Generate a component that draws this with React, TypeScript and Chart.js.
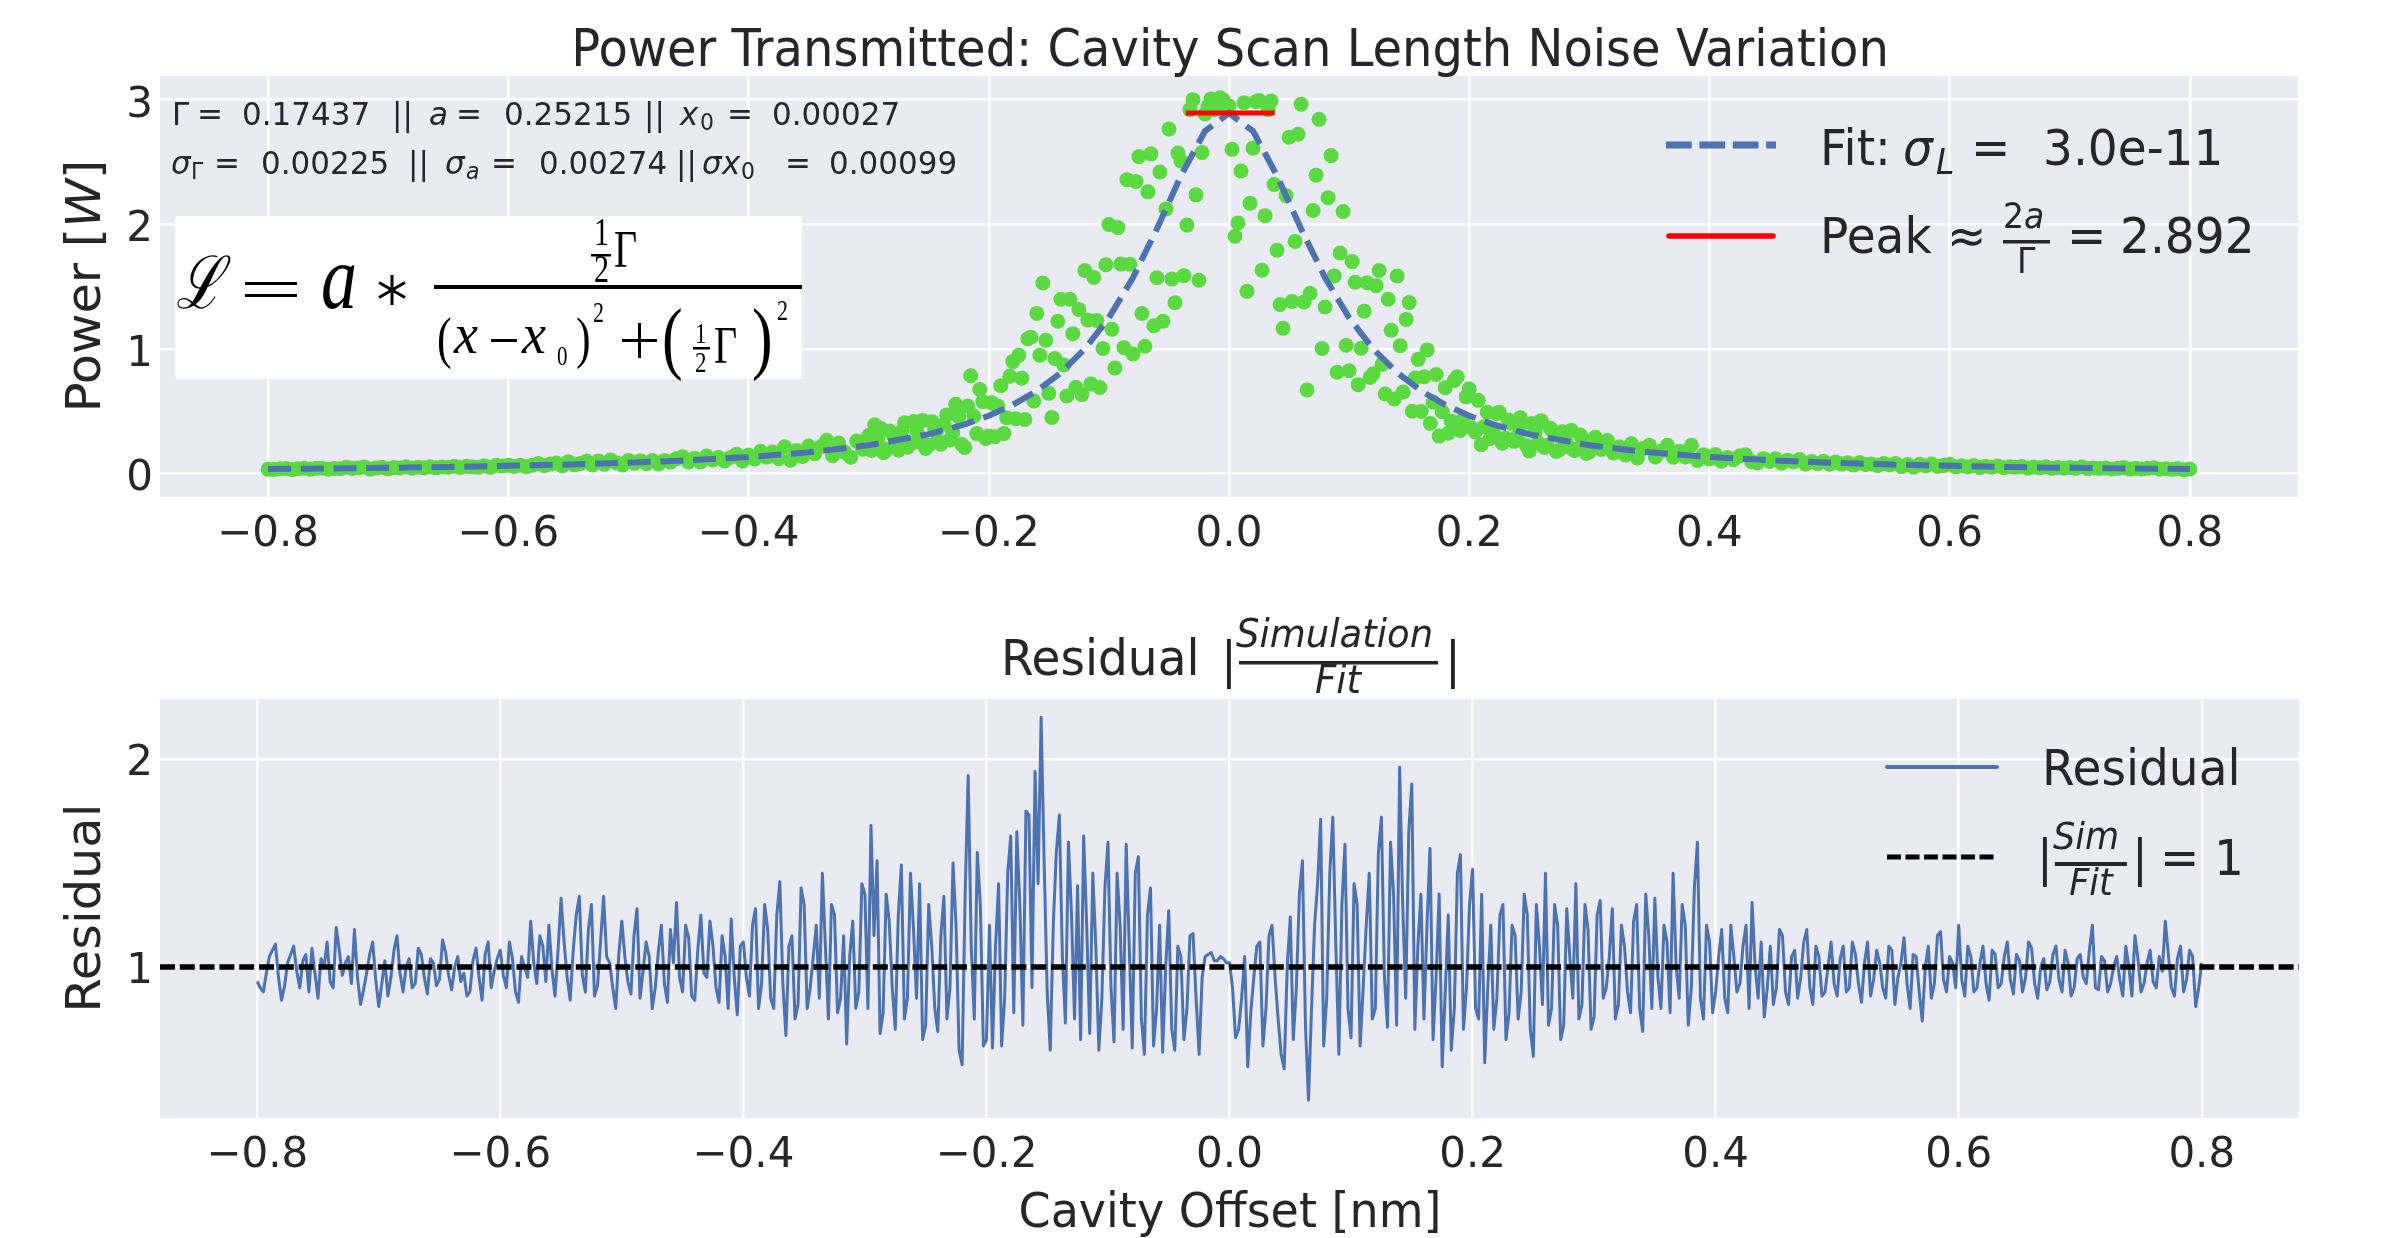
import { useEffect, useRef } from "react";
import { Chart, registerables } from "chart.js";

Chart.register(...registerables);

const W = 2393;
const H = 1238;

// ---------------- data ----------------
// simulated transmitted power samples (scatter)
const simOffsets = [
  -0.8, -0.795, -0.79, -0.785, -0.78, -0.775, -0.77, -0.765, -0.76, -0.755, -0.75, -0.745, -0.74, -0.735, -0.73, -0.725, -0.72, -0.715, -0.71, -0.705,
  -0.7, -0.695, -0.69, -0.685, -0.68, -0.675, -0.67, -0.665, -0.66, -0.655, -0.65, -0.645, -0.64, -0.635, -0.63, -0.625, -0.62, -0.615, -0.61, -0.605,
  -0.6, -0.595, -0.59, -0.585, -0.58, -0.575, -0.57, -0.565, -0.56, -0.555, -0.55, -0.545, -0.54, -0.535, -0.53, -0.525, -0.52, -0.515, -0.51, -0.505,
  -0.5, -0.495, -0.49, -0.485, -0.48, -0.475, -0.47, -0.465, -0.46, -0.455, -0.45, -0.445, -0.44, -0.435, -0.43, -0.425, -0.42, -0.415, -0.41, -0.405,
  -0.4, -0.395, -0.39, -0.385, -0.38, -0.375, -0.37, -0.365, -0.36, -0.355, -0.35, -0.345, -0.34, -0.335, -0.33, -0.325, -0.32, -0.315, -0.31, -0.305,
  -0.3, -0.295, -0.29, -0.285, -0.28, -0.275, -0.27, -0.265, -0.26, -0.255, -0.25, -0.245, -0.24, -0.235, -0.23, -0.225, -0.22, -0.215, -0.21, -0.205,
  -0.2, -0.195, -0.19, -0.185, -0.18, -0.175, -0.17, -0.165, -0.16, -0.155, -0.15, -0.145, -0.14, -0.135, -0.13, -0.125, -0.12, -0.115, -0.11, -0.105,
  -0.1, -0.095, -0.09, -0.085, -0.08, -0.075, -0.07, -0.065, -0.06, -0.055, -0.05, -0.045, -0.04, -0.035, -0.03, -0.025, -0.02, -0.015, -0.01, -0.005,
  0, 0.005, 0.01, 0.015, 0.02, 0.025, 0.03, 0.035, 0.04, 0.045, 0.05, 0.055, 0.06, 0.065, 0.07, 0.075, 0.08, 0.085, 0.09, 0.095,
  0.1, 0.105, 0.11, 0.115, 0.12, 0.125, 0.13, 0.135, 0.14, 0.145, 0.15, 0.155, 0.16, 0.165, 0.17, 0.175, 0.18, 0.185, 0.19, 0.195,
  0.2, 0.205, 0.21, 0.215, 0.22, 0.225, 0.23, 0.235, 0.24, 0.245, 0.25, 0.255, 0.26, 0.265, 0.27, 0.275, 0.28, 0.285, 0.29, 0.295,
  0.3, 0.305, 0.31, 0.315, 0.32, 0.325, 0.33, 0.335, 0.34, 0.345, 0.35, 0.355, 0.36, 0.365, 0.37, 0.375, 0.38, 0.385, 0.39, 0.395,
  0.4, 0.405, 0.41, 0.415, 0.42, 0.425, 0.43, 0.435, 0.44, 0.445, 0.45, 0.455, 0.46, 0.465, 0.47, 0.475, 0.48, 0.485, 0.49, 0.495,
  0.5, 0.505, 0.51, 0.515, 0.52, 0.525, 0.53, 0.535, 0.54, 0.545, 0.55, 0.555, 0.56, 0.565, 0.57, 0.575, 0.58, 0.585, 0.59, 0.595,
  0.6, 0.605, 0.61, 0.615, 0.62, 0.625, 0.63, 0.635, 0.64, 0.645, 0.65, 0.655, 0.66, 0.665, 0.67, 0.675, 0.68, 0.685, 0.69, 0.695,
  0.7, 0.705, 0.71, 0.715, 0.72, 0.725, 0.73, 0.735, 0.74, 0.745, 0.75, 0.755, 0.76, 0.765, 0.77, 0.775, 0.78, 0.785, 0.79, 0.795, 0.8,
];
const simulatedPower = [
  0.032, 0.030, 0.037, 0.039, 0.030, 0.037, 0.041, 0.033, 0.040, 0.041, 0.033, 0.039, 0.037, 0.048, 0.039, 0.043, 0.050, 0.034, 0.042, 0.048,
  0.036, 0.046, 0.043, 0.053, 0.041, 0.049, 0.044, 0.052, 0.044, 0.051, 0.048, 0.056, 0.047, 0.056, 0.052, 0.048, 0.061, 0.048, 0.065, 0.058,
  0.065, 0.055, 0.064, 0.052, 0.064, 0.079, 0.061, 0.074, 0.082, 0.059, 0.094, 0.068, 0.079, 0.099, 0.067, 0.100, 0.072, 0.107, 0.084, 0.066,
  0.104, 0.081, 0.102, 0.077, 0.103, 0.075, 0.103, 0.090, 0.118, 0.134, 0.092, 0.122, 0.092, 0.139, 0.108, 0.128, 0.099, 0.128, 0.154, 0.099,
  0.147, 0.115, 0.177, 0.130, 0.171, 0.118, 0.214, 0.105, 0.184, 0.135, 0.220, 0.157, 0.214, 0.265, 0.142, 0.243, 0.170, 0.130, 0.259, 0.193,
  0.304, 0.390, 0.362, 0.193, 0.312, 0.185, 0.407, 0.240, 0.345, 0.424, 0.226, 0.358, 0.233, 0.469, 0.327, 0.454, 0.208, 0.783, 0.319, 0.576,
  0.300, 0.294, 0.704, 0.447, 0.897, 0.949, 0.433, 1.092, 1.284, 1.529, 0.642, 0.922, 1.398, 0.621, 1.121, 1.316, 1.628, 0.718, 1.228, 1.003,
  1.998, 0.846, 1.680, 2.358, 0.958, 2.543, 1.020, 2.565, 1.570, 1.221, 2.764, 1.370, 2.508, 1.993, 3.000, 1.550, 2.885, 3.006, 2.941, 2.998,
  2.950, 1.903, 2.427, 1.461, 2.611, 2.994, 2.069, 2.989, 1.792, 1.165, 2.698, 1.862, 2.964, 0.669, 2.111, 2.842, 1.335, 2.551, 0.812, 2.102,
  0.824, 1.534, 1.004, 1.531, 0.799, 1.629, 0.637, 1.149, 1.584, 0.653, 1.372, 0.765, 0.497, 0.991, 0.572, 0.299, 0.688, 0.421, 0.775, 0.434,
  0.679, 0.332, 0.230, 0.490, 0.334, 0.491, 0.283, 0.403, 0.297, 0.406, 0.179, 0.333, 0.423, 0.226, 0.328, 0.190, 0.269, 0.346, 0.197, 0.274,
  0.171, 0.289, 0.191, 0.264, 0.164, 0.213, 0.147, 0.238, 0.123, 0.200, 0.225, 0.132, 0.179, 0.226, 0.129, 0.178, 0.131, 0.226, 0.104, 0.150,
  0.115, 0.151, 0.098, 0.128, 0.109, 0.139, 0.149, 0.094, 0.083, 0.118, 0.095, 0.117, 0.082, 0.106, 0.091, 0.111, 0.075, 0.095, 0.078, 0.097,
  0.073, 0.091, 0.074, 0.085, 0.066, 0.086, 0.071, 0.075, 0.062, 0.078, 0.067, 0.079, 0.054, 0.070, 0.049, 0.072, 0.059, 0.074, 0.055, 0.062,
  0.072, 0.051, 0.061, 0.051, 0.062, 0.046, 0.057, 0.049, 0.059, 0.045, 0.053, 0.048, 0.055, 0.042, 0.050, 0.044, 0.052, 0.040, 0.046, 0.041,
  0.047, 0.040, 0.052, 0.038, 0.043, 0.039, 0.043, 0.035, 0.040, 0.046, 0.034, 0.040, 0.035, 0.040, 0.045, 0.033, 0.037, 0.032, 0.038, 0.028, 0.035,
];
// extra samples in the central region
const simOffsetsCenter = [
  -0.2975, -0.2925, -0.2875, -0.2825, -0.2775, -0.2725, -0.2675, -0.2625, -0.2575, -0.2525, -0.2475, -0.2425, -0.2375, -0.2325, -0.2275, -0.2225, -0.2175, -0.2125, -0.2075, -0.2025,
  -0.1975, -0.1925, -0.1875, -0.1825, -0.1775, -0.1725, -0.1675, -0.1625, -0.1575, -0.1525, -0.1475, -0.1425, -0.1375, -0.1325, -0.1275, -0.1225, -0.1175, -0.1125, -0.1075, -0.1025,
  -0.0975, -0.0925, -0.0875, -0.0825, -0.0775, -0.0725, -0.0675, -0.0625, -0.0575, -0.0525, -0.0475, -0.0425, -0.0375, -0.0325, -0.0275, -0.0225, -0.0175, -0.0125, -0.0075, -0.0025,
  0.0025, 0.0075, 0.0125, 0.0175, 0.0225, 0.0275, 0.0325, 0.0375, 0.0425, 0.0475, 0.0525, 0.0575, 0.0625, 0.0675, 0.0725, 0.0775, 0.0825, 0.0875, 0.0925, 0.0975,
  0.1025, 0.1075, 0.1125, 0.1175, 0.1225, 0.1275, 0.1325, 0.1375, 0.1425, 0.1475, 0.1525, 0.1575, 0.1625, 0.1675, 0.1725, 0.1775, 0.1825, 0.1875, 0.1925, 0.1975,
  0.2025, 0.2075, 0.2125, 0.2175, 0.2225, 0.2275, 0.2325, 0.2375, 0.2425, 0.2475, 0.2525, 0.2575, 0.2625, 0.2675, 0.2725, 0.2775, 0.2825, 0.2875, 0.2925, 0.2975,
];
const simPowerCenter = [
  0.183, 0.271, 0.166, 0.340, 0.234, 0.336, 0.209, 0.416, 0.252, 0.200, 0.415, 0.265, 0.394, 0.268, 0.555, 0.231, 0.540, 0.459, 0.673, 0.280,
  0.566, 0.541, 0.319, 0.779, 0.438, 0.764, 1.080, 0.581, 0.949, 1.068, 0.449, 1.221, 0.870, 1.398, 0.691, 0.632, 1.232, 1.573, 0.689, 1.675,
  1.157, 1.973, 1.009, 1.679, 2.343, 1.283, 2.260, 1.185, 2.419, 2.123, 1.561, 2.571, 1.587, 2.920, 2.236, 2.576, 2.947, 2.919, 3.015, 2.948,
  2.601, 2.010, 2.976, 2.168, 2.983, 1.631, 2.920, 2.319, 1.355, 2.230, 1.380, 2.722, 1.376, 1.446, 2.394, 1.002, 2.213, 1.585, 1.769, 1.028,
  1.700, 0.712, 1.302, 0.770, 1.507, 0.875, 1.398, 0.597, 1.024, 1.236, 0.498, 0.915, 0.775, 0.401, 0.794, 0.495, 0.322, 0.745, 0.344, 0.614,
  0.362, 0.586, 0.375, 0.280, 0.481, 0.241, 0.428, 0.257, 0.447, 0.223, 0.400, 0.244, 0.207, 0.361, 0.175, 0.333, 0.214, 0.183, 0.307, 0.160,
];

// residual |simulation / fit|
const resOffsets = [
  -0.8, -0.7975, -0.795, -0.7925, -0.79, -0.7875, -0.785, -0.7825, -0.78, -0.7775, -0.775, -0.7725, -0.77, -0.7675, -0.765, -0.7625, -0.76, -0.7575, -0.755, -0.7525,
  -0.75, -0.7475, -0.745, -0.7425, -0.74, -0.7375, -0.735, -0.7325, -0.73, -0.7275, -0.725, -0.7225, -0.72, -0.7175, -0.715, -0.7125, -0.71, -0.7075, -0.705, -0.7025,
  -0.7, -0.6975, -0.695, -0.6925, -0.69, -0.6875, -0.685, -0.6825, -0.68, -0.6775, -0.675, -0.6725, -0.67, -0.6675, -0.665, -0.6625, -0.66, -0.6575, -0.655, -0.6525,
  -0.65, -0.6475, -0.645, -0.6425, -0.64, -0.6375, -0.635, -0.6325, -0.63, -0.6275, -0.625, -0.6225, -0.62, -0.6175, -0.615, -0.6125, -0.61, -0.6075, -0.605, -0.6025,
  -0.6, -0.5975, -0.595, -0.5925, -0.59, -0.5875, -0.585, -0.5825, -0.58, -0.5775, -0.575, -0.5725, -0.57, -0.5675, -0.565, -0.5625, -0.56, -0.5575, -0.555, -0.5525,
  -0.55, -0.5475, -0.545, -0.5425, -0.54, -0.5375, -0.535, -0.5325, -0.53, -0.5275, -0.525, -0.5225, -0.52, -0.5175, -0.515, -0.5125, -0.51, -0.5075, -0.505, -0.5025,
  -0.5, -0.4975, -0.495, -0.4925, -0.49, -0.4875, -0.485, -0.4825, -0.48, -0.4775, -0.475, -0.4725, -0.47, -0.4675, -0.465, -0.4625, -0.46, -0.4575, -0.455, -0.4525,
  -0.45, -0.4475, -0.445, -0.4425, -0.44, -0.4375, -0.435, -0.4325, -0.43, -0.4275, -0.425, -0.4225, -0.42, -0.4175, -0.415, -0.4125, -0.41, -0.4075, -0.405, -0.4025,
  -0.4, -0.3975, -0.395, -0.3925, -0.39, -0.3875, -0.385, -0.3825, -0.38, -0.3775, -0.375, -0.3725, -0.37, -0.3675, -0.365, -0.3625, -0.36, -0.3575, -0.355, -0.3525,
  -0.35, -0.3475, -0.345, -0.3425, -0.34, -0.3375, -0.335, -0.3325, -0.33, -0.3275, -0.325, -0.3225, -0.32, -0.3175, -0.315, -0.3125, -0.31, -0.3075, -0.305, -0.3025,
  -0.3, -0.2975, -0.295, -0.2925, -0.29, -0.2875, -0.285, -0.2825, -0.28, -0.2775, -0.275, -0.2725, -0.27, -0.2675, -0.265, -0.2625, -0.26, -0.2575, -0.255, -0.2525,
  -0.25, -0.2475, -0.245, -0.2425, -0.24, -0.2375, -0.235, -0.2325, -0.23, -0.2275, -0.225, -0.2225, -0.22, -0.2175, -0.215, -0.2125, -0.21, -0.2075, -0.205, -0.2025,
  -0.2, -0.1975, -0.195, -0.1925, -0.19, -0.1875, -0.185, -0.1825, -0.18, -0.1775, -0.175, -0.1725, -0.17, -0.1675, -0.165, -0.1625, -0.16, -0.1575, -0.155, -0.1525,
  -0.15, -0.1475, -0.145, -0.1425, -0.14, -0.1375, -0.135, -0.1325, -0.13, -0.1275, -0.125, -0.1225, -0.12, -0.1175, -0.115, -0.1125, -0.11, -0.1075, -0.105, -0.1025,
  -0.1, -0.0975, -0.095, -0.0925, -0.09, -0.0875, -0.085, -0.0825, -0.08, -0.0775, -0.075, -0.0725, -0.07, -0.0675, -0.065, -0.0625, -0.06, -0.0575, -0.055, -0.0525,
  -0.05, -0.0475, -0.045, -0.0425, -0.04, -0.0375, -0.035, -0.0325, -0.03, -0.0275, -0.025, -0.0225, -0.02, -0.0175, -0.015, -0.0125, -0.01, -0.0075, -0.005, -0.0025,
  0, 0.0025, 0.005, 0.0075, 0.01, 0.0125, 0.015, 0.0175, 0.02, 0.0225, 0.025, 0.0275, 0.03, 0.0325, 0.035, 0.0375, 0.04, 0.0425, 0.045, 0.0475,
  0.05, 0.0525, 0.055, 0.0575, 0.06, 0.0625, 0.065, 0.0675, 0.07, 0.0725, 0.075, 0.0775, 0.08, 0.0825, 0.085, 0.0875, 0.09, 0.0925, 0.095, 0.0975,
  0.1, 0.1025, 0.105, 0.1075, 0.11, 0.1125, 0.115, 0.1175, 0.12, 0.1225, 0.125, 0.1275, 0.13, 0.1325, 0.135, 0.1375, 0.14, 0.1425, 0.145, 0.1475,
  0.15, 0.1525, 0.155, 0.1575, 0.16, 0.1625, 0.165, 0.1675, 0.17, 0.1725, 0.175, 0.1775, 0.18, 0.1825, 0.185, 0.1875, 0.19, 0.1925, 0.195, 0.1975,
  0.2, 0.2025, 0.205, 0.2075, 0.21, 0.2125, 0.215, 0.2175, 0.22, 0.2225, 0.225, 0.2275, 0.23, 0.2325, 0.235, 0.2375, 0.24, 0.2425, 0.245, 0.2475,
  0.25, 0.2525, 0.255, 0.2575, 0.26, 0.2625, 0.265, 0.2675, 0.27, 0.2725, 0.275, 0.2775, 0.28, 0.2825, 0.285, 0.2875, 0.29, 0.2925, 0.295, 0.2975,
  0.3, 0.3025, 0.305, 0.3075, 0.31, 0.3125, 0.315, 0.3175, 0.32, 0.3225, 0.325, 0.3275, 0.33, 0.3325, 0.335, 0.3375, 0.34, 0.3425, 0.345, 0.3475,
  0.35, 0.3525, 0.355, 0.3575, 0.36, 0.3625, 0.365, 0.3675, 0.37, 0.3725, 0.375, 0.3775, 0.38, 0.3825, 0.385, 0.3875, 0.39, 0.3925, 0.395, 0.3975,
  0.4, 0.4025, 0.405, 0.4075, 0.41, 0.4125, 0.415, 0.4175, 0.42, 0.4225, 0.425, 0.4275, 0.43, 0.4325, 0.435, 0.4375, 0.44, 0.4425, 0.445, 0.4475,
  0.45, 0.4525, 0.455, 0.4575, 0.46, 0.4625, 0.465, 0.4675, 0.47, 0.4725, 0.475, 0.4775, 0.48, 0.4825, 0.485, 0.4875, 0.49, 0.4925, 0.495, 0.4975,
  0.5, 0.5025, 0.505, 0.5075, 0.51, 0.5125, 0.515, 0.5175, 0.52, 0.5225, 0.525, 0.5275, 0.53, 0.5325, 0.535, 0.5375, 0.54, 0.5425, 0.545, 0.5475,
  0.55, 0.5525, 0.555, 0.5575, 0.56, 0.5625, 0.565, 0.5675, 0.57, 0.5725, 0.575, 0.5775, 0.58, 0.5825, 0.585, 0.5875, 0.59, 0.5925, 0.595, 0.5975,
  0.6, 0.6025, 0.605, 0.6075, 0.61, 0.6125, 0.615, 0.6175, 0.62, 0.6225, 0.625, 0.6275, 0.63, 0.6325, 0.635, 0.6375, 0.64, 0.6425, 0.645, 0.6475,
  0.65, 0.6525, 0.655, 0.6575, 0.66, 0.6625, 0.665, 0.6675, 0.67, 0.6725, 0.675, 0.6775, 0.68, 0.6825, 0.685, 0.6875, 0.69, 0.6925, 0.695, 0.6975,
  0.7, 0.7025, 0.705, 0.7075, 0.71, 0.7125, 0.715, 0.7175, 0.72, 0.7225, 0.725, 0.7275, 0.73, 0.7325, 0.735, 0.7375, 0.74, 0.7425, 0.745, 0.7475,
  0.75, 0.7525, 0.755, 0.7575, 0.76, 0.7625, 0.765, 0.7675, 0.77, 0.7725, 0.775, 0.7775, 0.78, 0.7825, 0.785, 0.7875, 0.79, 0.7925, 0.795, 0.7975,
  0.8,
];
const residualRatio = [
  0.93, 0.90, 0.88, 0.97, 1.05, 1.08, 1.11, 0.95, 0.84, 0.91, 1.02, 1.06, 1.10, 0.98, 0.90, 1.03, 1.06, 0.88, 1.09, 0.97,
  0.85, 1.04, 1.00, 1.12, 0.93, 0.90, 1.19, 1.08, 0.96, 1.02, 1.05, 0.92, 1.18, 0.95, 0.82, 0.89, 0.97, 1.06, 1.12, 0.94,
  0.81, 0.92, 1.03, 0.86, 0.95, 1.08, 1.15, 0.97, 0.88, 1.00, 1.04, 0.90, 0.92, 1.09, 1.06, 0.95, 0.87, 1.04, 1.02, 0.91,
  0.94, 1.13, 1.07, 0.96, 0.89, 1.00, 1.05, 0.93, 0.97, 0.86, 0.88, 1.03, 1.09, 0.95, 0.84, 1.06, 1.12, 0.90, 0.98, 1.04,
  1.08, 0.96, 0.90, 1.12, 1.04, 0.88, 0.83, 1.05, 1.00, 0.95, 1.22, 1.02, 0.92, 1.15, 1.10, 0.93, 1.20, 0.99, 0.86, 1.08,
  1.33, 1.12, 0.95, 0.84, 1.08, 1.25, 1.34, 0.96, 0.88, 1.18, 1.30, 0.86, 0.91, 1.12, 1.34, 1.05, 1.02, 0.90, 0.80, 1.06,
  1.22, 1.05, 0.93, 0.87, 1.15, 1.28, 0.85, 0.98, 1.12, 1.05, 0.80, 0.90, 1.07, 1.20, 0.92, 0.83, 1.18, 1.02, 1.31, 0.95,
  0.88, 1.20, 1.14, 0.86, 0.84, 1.08, 1.25, 0.97, 0.95, 1.22, 1.10, 0.90, 0.83, 1.15, 1.05, 0.80, 1.23, 0.95, 0.77, 1.10,
  1.12, 0.95, 0.86, 1.20, 1.28, 0.80, 0.92, 1.30, 1.18, 0.85, 0.80, 1.25, 1.41, 0.92, 0.67, 1.10, 1.15, 0.75, 0.82, 1.38,
  1.30, 0.80, 0.90, 1.05, 1.20, 0.85, 1.45, 1.10, 0.75, 1.30, 1.25, 0.78, 0.85, 1.15, 0.63, 1.05, 1.22, 0.80, 0.88, 1.40,
  1.35, 0.80, 1.68, 1.15, 1.51, 0.68, 0.78, 1.35, 1.22, 0.90, 0.70, 1.25, 1.49, 0.75, 0.85, 1.45, 1.18, 0.85, 1.40, 0.65,
  0.72, 1.30, 1.10, 0.80, 0.69, 1.15, 1.34, 0.75, 0.90, 1.50, 1.20, 0.60, 0.53, 1.35, 1.92, 1.10, 0.75, 1.55, 1.30, 0.62,
  0.65, 1.20, 0.61, 1.10, 1.40, 0.62, 0.85, 1.45, 1.63, 0.78, 1.65, 1.30, 0.72, 1.75, 1.73, 0.90, 1.94, 1.40, 2.20, 1.50,
  0.88, 0.60, 1.20, 1.55, 1.73, 1.05, 0.73, 1.60, 1.25, 0.75, 1.39, 0.65, 1.63, 1.20, 0.68, 1.45, 1.10, 0.60, 0.85, 1.38,
  1.60, 0.90, 0.64, 1.45, 1.20, 0.70, 1.59, 1.10, 0.61, 1.45, 1.53, 0.75, 0.58, 1.25, 1.38, 0.62, 0.80, 1.20, 0.59, 1.00,
  1.27, 0.70, 0.60, 1.10, 1.05, 0.65, 0.80, 1.15, 1.16, 0.85, 0.58, 0.95, 1.05, 1.06, 1.07, 1.03, 1.03, 1.05, 1.04, 1.02,
  1.02, 0.90, 0.66, 0.70, 0.85, 1.05, 0.52, 0.78, 0.95, 1.10, 1.12, 0.62, 0.80, 1.15, 1.20, 0.95, 0.75, 0.58, 0.51, 1.00,
  1.24, 0.65, 0.90, 1.35, 1.51, 0.72, 0.36, 0.80, 1.20, 1.40, 1.71, 0.62, 0.85, 1.45, 1.72, 1.10, 0.58, 1.30, 1.59, 0.80,
  0.66, 1.40, 1.30, 0.62, 0.90, 1.20, 1.45, 0.75, 0.80, 1.55, 1.72, 0.95, 0.71, 1.60, 1.35, 0.72, 1.96, 1.30, 0.85, 1.65,
  1.88, 0.70, 1.10, 1.35, 0.75, 1.20, 1.57, 0.65, 0.95, 1.35, 0.52, 0.88, 1.25, 0.60, 0.80, 1.45, 1.54, 0.70, 0.90, 1.30,
  1.47, 0.80, 0.75, 1.35, 0.54, 0.90, 1.20, 0.70, 0.85, 1.25, 1.30, 0.65, 0.78, 1.20, 1.15, 0.75, 0.88, 1.35, 1.25, 0.70,
  0.57, 1.30, 1.10, 0.82, 1.45, 0.72, 0.80, 1.30, 1.20, 0.65, 0.72, 1.28, 1.05, 0.85, 1.40, 0.75, 0.82, 1.30, 1.18, 0.70,
  0.76, 1.25, 1.32, 0.85, 0.90, 1.05, 1.28, 0.75, 0.82, 1.20, 1.10, 0.88, 0.78, 1.22, 1.30, 0.80, 0.69, 1.35, 1.15, 0.80,
  1.33, 0.95, 0.80, 1.20, 1.12, 0.78, 1.45, 1.00, 0.85, 1.30, 1.20, 0.72, 0.90, 1.38, 1.60, 0.85, 0.75, 1.20, 1.12, 0.78,
  0.88, 1.05, 1.18, 0.85, 0.78, 1.20, 1.05, 0.88, 0.92, 1.10, 1.20, 0.80, 1.31, 1.00, 0.85, 1.12, 0.76, 0.90, 1.10, 0.82,
  0.90, 1.18, 1.15, 0.88, 0.82, 1.05, 1.08, 0.85, 0.95, 1.12, 1.18, 0.90, 0.82, 1.10, 1.05, 0.86, 0.88, 1.00, 1.12, 0.92,
  0.86, 1.04, 1.10, 0.88, 0.90, 1.12, 1.06, 0.92, 0.83, 1.02, 1.12, 0.86, 0.94, 1.08, 1.02, 0.90, 0.85, 1.10, 1.08, 0.82,
  0.95, 1.02, 1.14, 0.92, 0.80, 1.06, 1.05, 0.88, 0.74, 1.00, 1.10, 0.85, 0.92, 1.15, 1.17, 0.94, 0.88, 1.05, 1.02, 0.90,
  1.20, 0.94, 0.86, 1.10, 1.05, 0.88, 0.90, 1.02, 1.10, 0.92, 0.84, 1.08, 1.06, 0.90, 0.92, 1.05, 1.12, 0.94, 0.87, 1.06,
  1.03, 0.88, 0.95, 1.12, 1.09, 0.92, 0.85, 1.00, 1.04, 0.89, 0.93, 1.06, 1.10, 0.94, 0.88, 1.08, 1.02, 0.86, 0.90, 1.04,
  1.06, 0.95, 0.92, 1.08, 1.20, 0.90, 0.89, 1.05, 1.03, 0.88, 0.92, 1.00, 1.05, 0.94, 0.86, 1.10, 1.00, 0.86, 1.15, 1.04,
  0.88, 0.92, 1.02, 1.08, 0.93, 0.90, 1.05, 0.98, 1.22, 1.06, 0.90, 0.86, 1.04, 1.10, 0.88, 0.94, 1.08, 1.05, 0.81, 0.90,
  1.02,
];

// Lorentzian fit curve as drawn
const fitOffsets = [
  -0.8, -0.75, -0.7, -0.65, -0.6, -0.55, -0.5, -0.45, -0.4, -0.35, -0.3, -0.25, -0.22, -0.2, -0.18, -0.16, -0.14, -0.12, -0.1, -0.08, -0.06, -0.04, -0.02,
  0, 0.02, 0.04, 0.06, 0.08, 0.1, 0.12, 0.14, 0.16, 0.18, 0.2, 0.22, 0.25, 0.3, 0.35, 0.4, 0.45, 0.5, 0.55, 0.6, 0.65, 0.7, 0.75, 0.8,
];
const fitPower = [
  0.034, 0.039, 0.044, 0.051, 0.060, 0.071, 0.085, 0.105, 0.131, 0.169, 0.225, 0.314, 0.393, 0.462, 0.550, 0.662, 0.808, 0.999, 1.249, 1.570, 1.963, 2.389, 2.748,
  2.892, 2.748, 2.389, 1.963, 1.570, 1.249, 0.999, 0.808, 0.662, 0.550, 0.462, 0.393, 0.314, 0.225, 0.169, 0.131, 0.105, 0.085, 0.071, 0.060, 0.051, 0.044, 0.039, 0.034,
];

const peakOffsets = [-0.036, 0.038];
const peakPower = 2.892;

const topXRange = [-0.89, 0.89];
const topYRange = [-0.19, 3.19];
const botXRange = [-0.88, 0.88];
const botYRange = [0.274, 2.288];
const unityLevel = 1;

const offsetTicks = [-0.8, -0.6, -0.4, -0.2, 0, 0.2, 0.4, 0.6, 0.8];
const powerTicks = [0, 1, 2, 3];
const residualTicks = [1, 2];

// ---------------- styling ----------------
const SANS = "'DejaVu Sans', 'Noto Sans', sans-serif";
const SERIF = "'Liberation Serif', 'DejaVu Serif', serif";
const INK = "#262626";
const FACE = "#EAEAF2";
const BLUE = "#4C72B0";
const GREEN = "#5AD940";

type PutOpts = { italic?: boolean; family?: string; align?: CanvasTextAlign; sy?: number; color?: string };

function put(ctx: CanvasRenderingContext2D, s: string, x: number, y: number, size: number, o: PutOpts = {}) {
  ctx.save();
  ctx.font = `${o.italic ? "italic " : ""}${size}px ${o.family || SANS}`;
  ctx.fillStyle = o.color || INK;
  ctx.textAlign = o.align || "left";
  ctx.textBaseline = "alphabetic";
  ctx.translate(x, y);
  ctx.scale(1, o.sy ?? 1.05);
  ctx.fillText(s, 0, 0);
  ctx.restore();
}

function rotatedLabel(ctx: CanvasRenderingContext2D, parts: { s: string; italic?: boolean }[], cx: number, cy: number, size: number) {
  ctx.save();
  ctx.translate(cx, cy);
  ctx.rotate(-Math.PI / 2);
  ctx.scale(1.03, 1);
  ctx.fillStyle = INK;
  ctx.textBaseline = "alphabetic";
  ctx.textAlign = "left";
  let total = 0;
  const widths = parts.map((p) => {
    ctx.font = `${p.italic ? "italic " : ""}${size}px ${SANS}`;
    const w = ctx.measureText(p.s).width;
    total += w;
    return w;
  });
  let x = -total / 2;
  parts.forEach((p, i) => {
    ctx.font = `${p.italic ? "italic " : ""}${size}px ${SANS}`;
    ctx.fillText(p.s, x, 0);
    x += widths[i];
  });
  ctx.restore();
}

function seg(ctx: CanvasRenderingContext2D, x1: number, x2: number, y: number, color: string, width: number, dash: number[] = [], cap: CanvasLineCap = "butt") {
  ctx.save();
  ctx.strokeStyle = color;
  ctx.lineWidth = width;
  ctx.setLineDash(dash);
  ctx.lineCap = cap;
  ctx.beginPath();
  ctx.moveTo(x1, y);
  ctx.lineTo(x2, y);
  ctx.stroke();
  ctx.restore();
}

function drawFormula(ctx: CanvasRenderingContext2D) {
  ctx.save();
  ctx.fillStyle = "#ffffff";
  ctx.fillRect(175, 216, 627, 163);
  const blk = "#000000";
  ctx.fillStyle = blk;
  const k = 1.3;
  put(ctx, "\u2112", 176, 308, 56, { family: SERIF, italic: true, sy: k, color: blk });
  ctx.fillRect(245, 282, 52, 3);
  ctx.fillRect(245, 294, 52, 3);
  put(ctx, "a", 321, 308, 72, { family: SERIF, italic: true, sy: 1.25, color: blk });
  ctx.strokeStyle = blk;
  ctx.lineWidth = 3;
  for (let i = 0; i < 3; i++) {
    const a = Math.PI / 2 + (i * Math.PI) / 3;
    ctx.beginPath();
    ctx.moveTo(392 + 15 * Math.cos(a), 290 - 15 * Math.sin(a));
    ctx.lineTo(392 - 15 * Math.cos(a), 290 + 15 * Math.sin(a));
    ctx.stroke();
  }
  ctx.fillRect(434, 285, 368, 4);
  // numerator
  put(ctx, "1", 594, 245, 30, { family: SERIF, sy: k, color: blk });
  ctx.fillRect(591, 254, 20, 2.5);
  put(ctx, "2", 594, 282, 30, { family: SERIF, sy: k, color: blk });
  put(ctx, "\u0393", 614, 267, 40, { family: SERIF, sy: k, color: blk });
  // denominator
  put(ctx, "(", 437, 357, 44, { family: SERIF, sy: k, color: blk });
  put(ctx, "x", 454, 353, 54, { family: SERIF, italic: true, sy: 1.05, color: blk });
  ctx.fillRect(491, 339, 26, 3);
  put(ctx, "x", 522, 353, 54, { family: SERIF, italic: true, sy: 1.05, color: blk });
  put(ctx, "0", 557, 365, 21, { family: SERIF, sy: k, color: blk });
  put(ctx, ")", 576, 357, 44, { family: SERIF, sy: k, color: blk });
  put(ctx, "2", 593, 322, 22, { family: SERIF, sy: k, color: blk });
  ctx.fillRect(622, 339, 35, 3);
  ctx.fillRect(638, 323, 3, 35);
  put(ctx, "(", 662, 364, 62, { family: SERIF, sy: k, color: blk });
  put(ctx, "1", 695, 343, 23, { family: SERIF, sy: k, color: blk });
  ctx.fillRect(693, 347, 17, 2.5);
  put(ctx, "2", 695, 372, 23, { family: SERIF, sy: k, color: blk });
  put(ctx, "\u0393", 714, 363, 40, { family: SERIF, sy: k, color: blk });
  put(ctx, ")", 752, 364, 62, { family: SERIF, sy: k, color: blk });
  put(ctx, "2", 777, 320, 22, { family: SERIF, sy: k, color: blk });
  ctx.restore();
}

function drawParams(ctx: CanvasRenderingContext2D) {
  const f = 31;
  const sb = 22;
  const y1 = 125;
  const y2 = 174;
  put(ctx, "\u0393", 172, y1, f);
  put(ctx, "=", 197, y1, f);
  put(ctx, "0.17437", 242, y1, f);
  put(ctx, "||", 392, y1, f);
  put(ctx, "a", 429, y1, f, { italic: true });
  put(ctx, "=", 456, y1, f);
  put(ctx, "0.25215", 504, y1, f);
  put(ctx, "||", 644, y1, f);
  put(ctx, "x", 680, y1, f, { italic: true });
  put(ctx, "0", 700, y1 + 5, sb);
  put(ctx, "=", 727, y1, f);
  put(ctx, "0.00027", 772, y1, f);

  put(ctx, "\u03C3", 171, y2, f, { italic: true });
  put(ctx, "\u0393", 191, y2 + 5, sb);
  put(ctx, "=", 214, y2, f);
  put(ctx, "0.00225", 261, y2, f);
  put(ctx, "||", 408, y2, f);
  put(ctx, "\u03C3", 445, y2, f, { italic: true });
  put(ctx, "a", 466, y2 + 5, sb, { italic: true });
  put(ctx, "=", 491, y2, f);
  put(ctx, "0.00274", 539, y2, f);
  put(ctx, "||", 676, y2, f);
  put(ctx, "\u03C3", 702, y2, f, { italic: true });
  put(ctx, "x", 722, y2, f, { italic: true });
  put(ctx, "0", 741, y2 + 5, sb);
  put(ctx, "=", 785, y2, f);
  put(ctx, "0.00099", 829, y2, f);
}

const fmtOffset = (v: number | string) => Number(v).toFixed(1).replace("-", "\u2212");
const fmtInt = (v: number | string) => Number(v).toFixed(0);

function faceFill(chart: any) {
  const a = chart.chartArea;
  const ctx = chart.ctx as CanvasRenderingContext2D;
  ctx.save();
  ctx.fillStyle = FACE;
  ctx.fillRect(a.left, a.top, a.right - a.left, a.bottom - a.top);
  ctx.restore();
}

const topDecor = {
  id: "topDecor",
  beforeDraw(chart: any) {
    faceFill(chart);
  },
  afterDraw(chart: any) {
    const ctx = chart.ctx as CanvasRenderingContext2D;
    put(ctx, "Power Transmitted: Cavity Scan Length Noise Variation", 1230, 66, 48, { align: "center", sy: 1.07 });
    rotatedLabel(ctx, [{ s: "Power [" }, { s: "W", italic: true }, { s: "]" }], 100, 286, 48);
    drawParams(ctx);
    drawFormula(ctx);
    // legend
    seg(ctx, 1666, 1776, 145, BLUE, 7, [25.7, 7.7]);
    put(ctx, "Fit:", 1820, 165, 47);
    put(ctx, "\u03C3", 1903, 165, 47, { italic: true });
    put(ctx, "L", 1936, 174, 33, { italic: true });
    put(ctx, "=", 1971, 165, 47);
    put(ctx, "3.0e-11", 2043, 165, 47);
    seg(ctx, 1669, 1773, 236, "#FF0000", 5.5, [], "round");
    put(ctx, "Peak", 1820, 253, 47);
    put(ctx, "\u2248", 1947, 253, 47);
    put(ctx, "2", 2003, 228, 33);
    put(ctx, "a", 2024, 228, 33, { italic: true });
    ctx.save();
    ctx.fillStyle = INK;
    ctx.fillRect(2003, 240, 47, 3.5);
    ctx.restore();
    put(ctx, "\u0393", 2017, 273, 33);
    put(ctx, "=", 2067, 253, 47);
    put(ctx, "2.892", 2120, 253, 47);
  },
};

const botDecor = {
  id: "botDecor",
  beforeDraw(chart: any) {
    faceFill(chart);
  },
  afterDraw(chart: any) {
    const ctx = chart.ctx as CanvasRenderingContext2D;
    // title
    put(ctx, "Residual", 1001, 675, 47);
    put(ctx, "|", 1221, 677, 47);
    put(ctx, "Simulation", 1236, 647, 37, { italic: true });
    ctx.save();
    ctx.fillStyle = INK;
    ctx.fillRect(1239, 661, 199, 3.5);
    ctx.restore();
    put(ctx, "Fit", 1338, 693, 37, { italic: true, align: "center" });
    put(ctx, "|", 1445, 677, 47);
    // axis labels
    rotatedLabel(ctx, [{ s: "Residual" }], 100, 908, 48);
    put(ctx, "Cavity Offset [nm]", 1230, 1227, 46, { align: "center", sy: 1.06 });
    // legend
    seg(ctx, 1887, 1997, 767, BLUE, 4, [], "round");
    put(ctx, "Residual", 2042, 785, 47);
    seg(ctx, 1887, 1997, 857, "#000000", 5, [14, 4.5]);
    put(ctx, "|", 2037, 875, 47);
    put(ctx, "Sim", 2053, 849, 35, { italic: true });
    ctx.save();
    ctx.fillStyle = INK;
    ctx.fillRect(2055, 862, 72, 4);
    ctx.restore();
    put(ctx, "Fit", 2091, 895, 35, { italic: true, align: "center" });
    put(ctx, "|", 2132, 875, 47);
    put(ctx, "=", 2160, 875, 47);
    put(ctx, "1", 2214, 875, 47);
  },
};

function axisX(range: number[]) {
  return {
    type: "linear" as const,
    min: range[0],
    max: range[1],
    afterBuildTicks: (axis: any) => {
      axis.ticks = offsetTicks.map((v) => ({ value: v }));
    },
    afterFit: (scale: any) => {
      scale.height = 80;
    },
    grid: { color: "#FFFFFF", lineWidth: 2.5, drawTicks: false },
    border: { display: false },
    ticks: {
      autoSkip: false,
      maxRotation: 0,
      padding: 13,
      color: INK,
      font: { family: SANS, size: 42 },
      callback: (v: any) => fmtOffset(v),
    },
  };
}

function axisY(range: number[], tickVals: number[], offset: number) {
  return {
    type: "linear" as const,
    min: range[0],
    max: range[1],
    afterBuildTicks: (axis: any) => {
      axis.ticks = tickVals.map((v) => ({ value: v }));
    },
    afterFit: (scale: any) => {
      scale.width = 100;
    },
    grid: { color: "#FFFFFF", lineWidth: 2.5, drawTicks: false },
    border: { display: false },
    ticks: {
      autoSkip: false,
      padding: 7,
      labelOffset: offset,
      color: INK,
      font: { family: SANS, size: 42 },
      callback: (v: any) => fmtInt(v),
    },
  };
}

export default function App() {
  const topRef = useRef<HTMLCanvasElement>(null);
  const botRef = useRef<HTMLCanvasElement>(null);

  useEffect(() => {
    const simPoints = simOffsets
      .map((x, i) => ({ x, y: simulatedPower[i] }))
      .concat(simOffsetsCenter.map((x, i) => ({ x, y: simPowerCenter[i] })));
    const fitPoints = fitOffsets.map((x, i) => ({ x, y: fitPower[i] }));
    const peakPoints = peakOffsets.map((x) => ({ x, y: peakPower }));
    const resPoints = resOffsets.map((x, i) => ({ x, y: residualRatio[i] }));
    const unityPoints = botXRange.map((x) => ({ x, y: unityLevel }));

    const top = new Chart(topRef.current as HTMLCanvasElement, {
      type: "scatter",
      data: {
        datasets: [
          {
            type: "line",
            label: "Peak",
            data: peakPoints,
            borderColor: "#FF0000",
            borderWidth: 5,
            pointRadius: 0,
            showLine: true,
            order: 0,
          } as any,
          {
            type: "line",
            label: "Fit",
            data: fitPoints,
            borderColor: BLUE,
            borderWidth: 6,
            borderDash: [23, 9.7],
            pointRadius: 0,
            showLine: true,
            order: 1,
          } as any,
          {
            type: "scatter",
            label: "Simulation",
            data: simPoints,
            backgroundColor: GREEN,
            borderWidth: 0,
            pointRadius: 7.5,
            order: 2,
          } as any,
        ],
      },
      options: {
        animation: false,
        responsive: false,
        devicePixelRatio: 1,
        events: [],
        layout: { padding: { left: 60, right: 95, top: 76, bottom: 661 } },
        plugins: { legend: { display: false }, tooltip: { enabled: false }, title: { display: false } },
        scales: {
          x: axisX(topXRange),
          y: axisY(topYRange, powerTicks, 6),
        },
      } as any,
      plugins: [topDecor],
    });

    const bot = new Chart(botRef.current as HTMLCanvasElement, {
      type: "line",
      data: {
        datasets: [
          {
            label: "unity",
            data: unityPoints,
            borderColor: "#000000",
            borderWidth: 5.5,
            borderDash: [15, 4.8],
            pointRadius: 0,
            order: 0,
          },
          {
            label: "Residual",
            data: resPoints,
            borderColor: BLUE,
            borderWidth: 3,
            borderJoinStyle: "round",
            pointRadius: 0,
            order: 1,
          },
        ],
      },
      options: {
        animation: false,
        responsive: false,
        devicePixelRatio: 1,
        events: [],
        layout: { padding: { left: 60, right: 94, top: 699, bottom: 40 } },
        plugins: { legend: { display: false }, tooltip: { enabled: false }, title: { display: false } },
        scales: {
          x: axisX(botXRange),
          y: axisY(botYRange, residualTicks, 5),
        },
      } as any,
      plugins: [botDecor],
    });

    return () => {
      top.destroy();
      bot.destroy();
    };
  }, []);

  return (
    <div style={{ position: "fixed", left: 0, top: 0, width: W, height: H, background: "#ffffff" }}>
      <canvas ref={topRef} width={W} height={H} style={{ position: "absolute", left: 0, top: 0 }} />
      <canvas ref={botRef} width={W} height={H} style={{ position: "absolute", left: 0, top: 0 }} />
    </div>
  );
}
